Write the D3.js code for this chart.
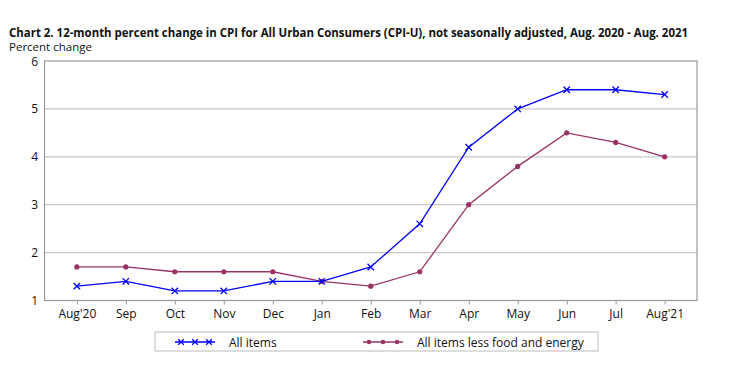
<!DOCTYPE html>
<html>
<head>
<meta charset="utf-8">
<script src="https://cdn.jsdelivr.net/npm/d3@7/dist/d3.min.js"></script>
<style>
  body { margin: 0; background: #fff; }
  svg { display: block; font-family: "Open Sans", "DejaVu Sans", sans-serif; }
</style>
</head>
<body>
<svg id="chart" width="734" height="369"></svg>
<script>
const months = ["Aug'20", "Sep", "Oct", "Nov", "Dec", "Jan", "Feb", "Mar", "Apr", "May", "Jun", "Jul", "Aug'21"]
const allItems = [1.3, 1.4, 1.2, 1.2, 1.4, 1.4, 1.7, 2.6, 4.2, 5.0, 5.4, 5.4, 5.3]
const coreItems = [1.7, 1.7, 1.6, 1.6, 1.6, 1.4, 1.3, 1.6, 3.0, 3.8, 4.5, 4.3, 4.0]
const yTicks = [1, 2, 3, 4, 5, 6]

const BLUE = "#0000ff"
const PURPLE = "#993366"

const svg = d3.select("#chart")
const plot = { left: 44.5, right: 697, top: 61, bottom: 300.5 }

// Title
svg.append("text")
  .attr("x", 9).attr("y", 37)
  .attr("font-size", "11.5px").attr("font-weight", "bold")
  .attr("fill", "#111")
  .attr("textLength", 679).attr("lengthAdjust", "spacingAndGlyphs")
  .text("Chart 2. 12-month percent change in CPI for All Urban Consumers (CPI-U), not seasonally adjusted, Aug. 2020 - Aug. 2021")

svg.append("text")
  .attr("x", 9).attr("y", 50.5)
  .attr("font-size", "11.5px").attr("fill", "#111")
  .text("Percent change")

const x = d3.scalePoint()
  .domain(months)
  .range([plot.left, plot.right])
  .padding(0.66)

const y = d3.scaleLinear()
  .domain([1, 6])
  .range([plot.bottom, plot.top])

// Gridlines
svg.append("g")
  .selectAll("line")
  .data(yTicks.slice(1, -1))
  .join("line")
  .attr("x1", plot.left).attr("x2", plot.right)
  .attr("y1", d => y(d)).attr("y2", d => y(d))
  .attr("stroke", "#c8c8c8").attr("stroke-width", 1.2)

// Frame
svg.append("rect")
  .attr("x", plot.left).attr("y", plot.top)
  .attr("width", plot.right - plot.left).attr("height", plot.bottom - plot.top)
  .attr("fill", "none").attr("stroke", "#999").attr("stroke-width", 1.2)

// Y axis labels
svg.append("g")
  .selectAll("text")
  .data(yTicks)
  .join("text")
  .attr("x", 38).attr("y", d => y(d) + 4.5)
  .attr("text-anchor", "end")
  .attr("font-size", "12px").attr("fill", "#111")
  .text(d => d)

// X axis ticks and labels
const xAxis = svg.append("g")
  .attr("transform", `translate(0,${plot.bottom})`)
  .call(d3.axisBottom(x).tickSize(4).tickPadding(5))
xAxis.select(".domain").remove()
xAxis.selectAll(".tick line").attr("stroke", "#999")
xAxis.selectAll(".tick text")
  .attr("font-size", "12px").attr("fill", "#111")
  .attr("font-family", "\"Open Sans\", \"DejaVu Sans\", sans-serif")

const line = d3.line()
  .x((d, i) => x(months[i]))
  .y(d => y(d))

// Core series
svg.append("path")
  .datum(coreItems)
  .attr("d", line)
  .attr("fill", "none").attr("stroke", PURPLE).attr("stroke-width", 1.3)

svg.append("g")
  .selectAll("circle")
  .data(coreItems)
  .join("circle")
  .attr("cx", (d, i) => x(months[i])).attr("cy", d => y(d))
  .attr("r", 2.6).attr("fill", PURPLE)

// All items series
svg.append("path")
  .datum(allItems)
  .attr("d", line)
  .attr("fill", "none").attr("stroke", BLUE).attr("stroke-width", 1.3)

const cross = (g, cx, cy, r) => {
  g.append("path")
    .attr("d", `M${cx - r},${cy - r}L${cx + r},${cy + r}M${cx - r},${cy + r}L${cx + r},${cy - r}`)
    .attr("stroke", BLUE).attr("stroke-width", 1.3).attr("fill", "none")
}
const marks = svg.append("g")
allItems.forEach((d, i) => cross(marks, x(months[i]), y(d), 3.2))

// Legend
const legend = svg.append("g")
legend.append("rect")
  .attr("x", 155).attr("y", 332).attr("width", 443).attr("height", 19)
  .attr("fill", "#fff").attr("stroke", "#bbb").attr("stroke-width", 1)

legend.append("line")
  .attr("x1", 175).attr("x2", 215).attr("y1", 342).attr("y2", 342)
  .attr("stroke", BLUE).attr("stroke-width", 1.3)
;[181, 195, 209].forEach(cx => cross(legend, cx, 342, 2.8))
legend.append("text")
  .attr("x", 229).attr("y", 346.5)
  .attr("font-size", "12px").attr("fill", "#111")
  .text("All items")

legend.append("line")
  .attr("x1", 363).attr("x2", 403).attr("y1", 342).attr("y2", 342)
  .attr("stroke", PURPLE).attr("stroke-width", 1.3)
legend.selectAll("circle.lg")
  .data([369, 383, 397])
  .join("circle")
  .attr("class", "lg")
  .attr("cx", d => d).attr("cy", 342).attr("r", 2.3).attr("fill", PURPLE)
legend.append("text")
  .attr("x", 417).attr("y", 346.5)
  .attr("font-size", "12px").attr("fill", "#111")
  .text("All items less food and energy")
</script>
</body>
</html>
